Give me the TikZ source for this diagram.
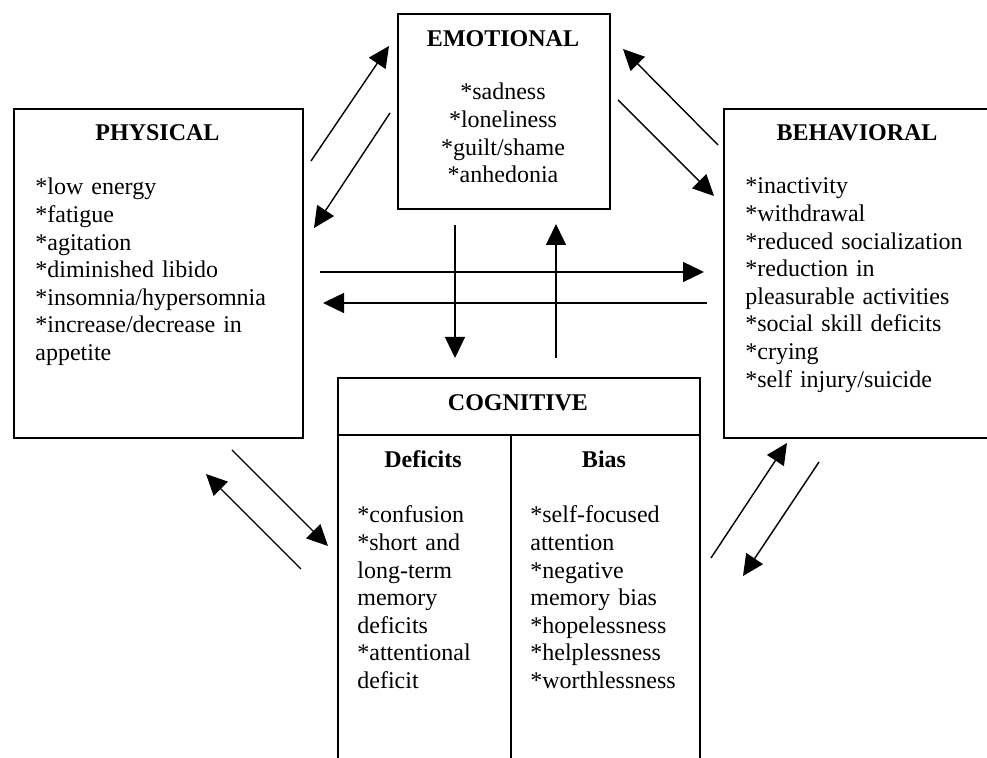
\documentclass[tikz,border=0pt]{standalone}
\usepackage{fontspec}
\setmainfont{Liberation Serif}
\usetikzlibrary{arrows.meta}

\begin{document}
\begin{tikzpicture}[x=0.5pt, y=-0.5pt,
    box/.style={draw, line width=1pt, inner sep=0pt, anchor=north west},
    head/.style={font=\bfseries\fontsize{12}{13.8}\selectfont, inner sep=0pt, anchor=base},
    items/.style={font=\fontsize{12}{13.8}\selectfont, inner sep=0pt, text width=150pt, align=left, anchor=base west},
    link/.style={line width=0.7pt, -{Triangle[length=10.5pt, width=10pt]}}]
        \clip (0,0) rectangle (987,758);

        % Physical box
        \node[box, minimum width=144.5pt, minimum height=164.5pt] (phys) at (13,108) {};
        \node[head] (physhead) at (157.5,141) {PHYSICAL};
        \node[items] (physlist) at (35,195) {*low energy\\{}*fatigue\\{}*agitation\\{}*diminished libido\\{}*insomnia/hypersomnia\\{}*increase/decrease in\\appetite};

        % Emotional box
        \node[box, minimum width=106pt, minimum height=97.5pt] (emo) at (397,13) {};
        \node[head] (emohead) at (503,47) {EMOTIONAL};
        \node[items, text width=100pt, align=center, anchor=base] (emolist) at (503,100) {*sadness\\{}*loneliness\\{}*guilt/shame\\{}*anhedonia};

        % Behavioral box
        \node[box, minimum width=134.5pt, minimum height=164.5pt] (behav) at (723,108) {};
        \node[head] (behavhead) at (857,141) {BEHAVIORAL};
        \node[items] (behavlist) at (745,194) {*inactivity\\{}*withdrawal\\{}*reduced socialization\\{}*reduction in\\pleasurable activities\\{}*social skill deficits\\{}*crying\\{}*self injury/suicide};

        % Cognitive box
        \node[box, minimum width=181pt, minimum height=28.5pt] (cog) at (337,377) {};
        \node[head] (coghead) at (518,411) {COGNITIVE};
        \node[box, minimum width=86.5pt, minimum height=173pt] (deficits) at (337,434) {};
        \node[box, minimum width=94.5pt, minimum height=173pt] (bias) at (510,434) {};
        \node[head] (defhead) at (423,468) {Deficits};
        \node[head] (biashead) at (604,468) {Bias};
        \node[items] (deflist) at (357,523) {*confusion\\{}*short and\\long-term\\memory\\deficits\\{}*attentional\\deficit};
        \node[items] (biaslist) at (530,523) {*self-focused\\attention\\{}*negative\\memory bias\\{}*hopelessness\\{}*helplessness\\{}*worthlessness};

        % Arrow ends
        \coordinate (pe1) at (311,161);  \coordinate (pe2) at (389,46);
        \coordinate (ep1) at (390,113);  \coordinate (ep2) at (314,228);
        \coordinate (be1) at (718,145);  \coordinate (be2) at (623,49);
        \coordinate (eb1) at (618,100);  \coordinate (eb2) at (714,196);
        \coordinate (pb1) at (320,272);  \coordinate (pb2) at (704,272);
        \coordinate (bp1) at (707,303);  \coordinate (bp2) at (323,303);
        \coordinate (ec1) at (455,225);  \coordinate (ec2) at (455,358);
        \coordinate (ce1) at (556,358);  \coordinate (ce2) at (556,224);
        \coordinate (pc1) at (232,450);  \coordinate (pc2) at (328,546);
        \coordinate (cp1) at (301,569);  \coordinate (cp2) at (206,474);
        \coordinate (cb1) at (711,558);  \coordinate (cb2) at (787,443);
        \coordinate (bc1) at (819,462);  \coordinate (bc2) at (743,576);

        % Arrows
        \draw[link] (pe1) -- (pe2);
        \draw[link] (ep1) -- (ep2);
        \draw[link] (be1) -- (be2);
        \draw[link] (eb1) -- (eb2);
        \draw[link] (pb1) -- (pb2);
        \draw[link] (bp1) -- (bp2);
        \draw[link] (ec1) -- (ec2);
        \draw[link] (ce1) -- (ce2);
        \draw[link] (pc1) -- (pc2);
        \draw[link] (cp1) -- (cp2);
        \draw[link] (cb1) -- (cb2);
        \draw[link] (bc1) -- (bc2);
    \end{tikzpicture}
\end{document}
